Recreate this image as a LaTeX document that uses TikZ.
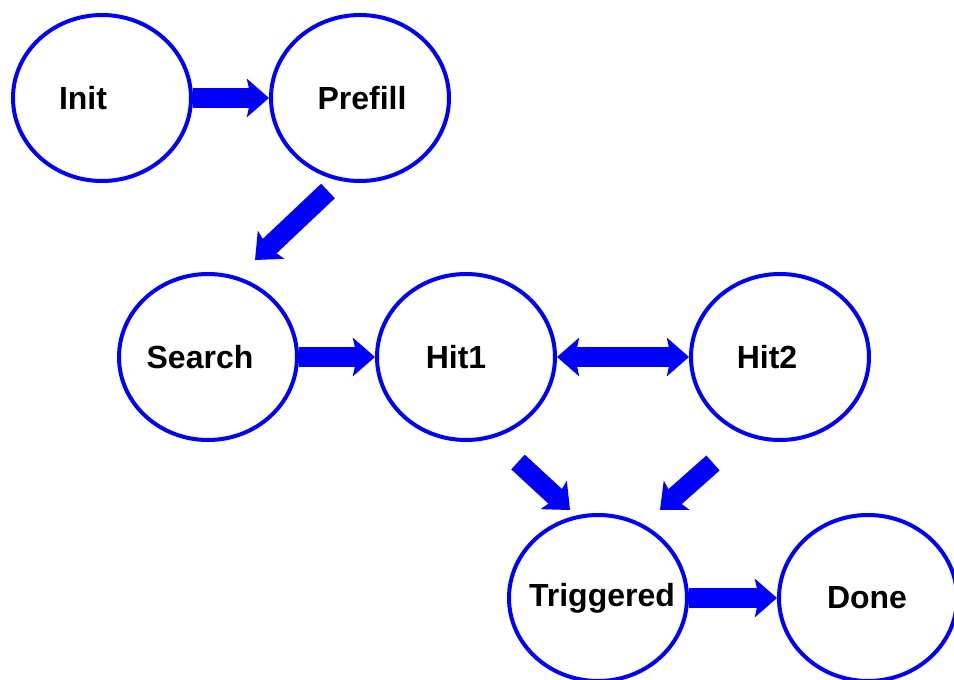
\documentclass[tikz,border=0pt]{standalone}
\usepackage{fontspec}
\setmainfont{Liberation Sans}
\usetikzlibrary{shapes.geometric, arrows.meta}

\tikzset{
    st/.style={ellipse, draw=blue, line width=4pt,
        minimum width=178pt, minimum height=166pt},
    lbl/.style={font=\bfseries\fontsize{32}{38}\selectfont},
    bigarrow/.style={blue, line width=20pt,
        -{Stealth[length=22pt,width=38pt,inset=4pt]}},
    bigboth/.style={blue, line width=20pt,
        {Stealth[length=22pt,width=38pt,inset=4pt]}-{Stealth[length=22pt,width=38pt,inset=4pt]}}
}

\begin{document}
\begin{tikzpicture}[x=1pt, y=1pt]
\useasboundingbox (0,0) rectangle (954,-680);
\node[st, label={[lbl,xshift=-19pt]center:Init}] (init) at (102,-98) {};
\node[st, label={[lbl,xshift=2pt]center:Prefill}] (prefill) at (360,-98) {};
\node[st, label={[lbl,xshift=-8pt]center:Search}] (search) at (208,-357) {};
\node[st, label={[lbl,xshift=-10pt]center:Hit1}] (hit1) at (466,-357) {};
\node[st, label={[lbl,xshift=-13pt]center:Hit2}] (hit2) at (780,-357) {};
\node[st, label={[lbl,xshift=4pt]center:Triggered}] (trig) at (598,-598) {};
\node[st, label={[lbl,xshift=-1pt]center:Done}] (done) at (868,-598) {};

\draw[bigarrow] (init) -- (prefill);
\draw[bigarrow] ([shift={(-32pt,-8pt)}]prefill.south)
    -- ([shift={(47pt,12pt)}]search.north);
\draw[bigarrow] (search) -- (hit1);
\draw[bigboth] (hit1) -- (hit2);
\draw[bigarrow] ([shift={(52pt,-20pt)}]hit1.south)
    -- ([shift={(-28pt,3pt)}]trig.north);
\draw[bigarrow] ([shift={(-67pt,-21pt)}]hit2.south)
    -- ([shift={(62pt,3pt)}]trig.north);
\draw[bigarrow] (trig) -- (done);
\end{tikzpicture}
\end{document}
